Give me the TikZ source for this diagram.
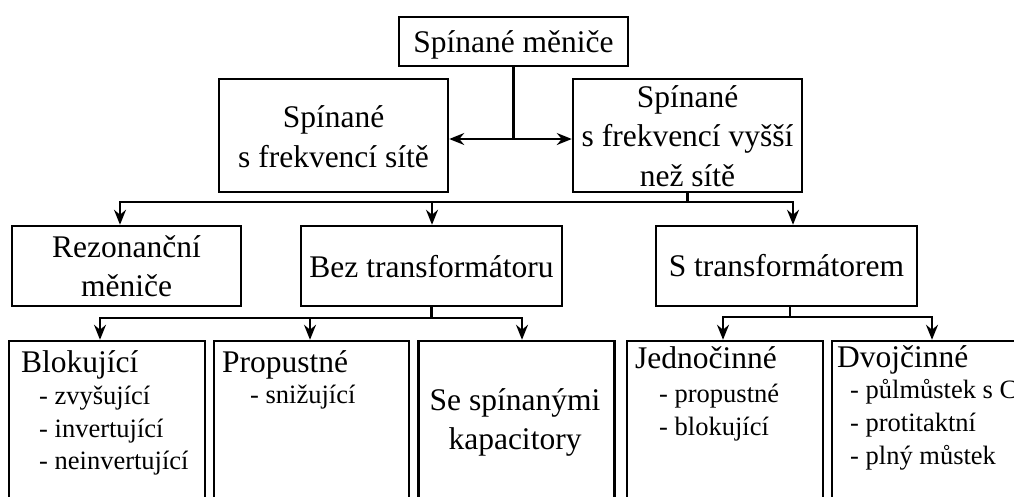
\documentclass[tikz,border=0pt]{standalone}
\usepackage{fontspec}
\setmainfont{Liberation Serif}
\usetikzlibrary{arrows.meta}
\begin{document}
\begin{tikzpicture}[x=1pt,y=-1pt,
  box/.style={draw=black,line width=2.5pt,inner sep=0pt,minimum width=#1},
  box/.default=229pt,
  big/.style={inner sep=0pt,font=\fontsize{31.5}{40}\selectfont},
  small/.style={inner sep=0pt,font=\fontsize{26.5}{33}\selectfont},
  conn/.style={line width=2.2pt},
  arr/.style={conn,-{Stealth[length=15pt,width=12pt,inset=5pt]}}]
\useasboundingbox (0,0) rectangle (1014,496);
\clip (0,0) rectangle (1014,496);
% boxes
\node[box=229pt,minimum height=49pt] (top) at (513.5,41.5) {};
\node[box=229pt,minimum height=113pt] (L2) at (333.5,135.5) {};
\node[box=229pt,minimum height=113pt] (R2) at (687.5,135.5) {};
\node[box=229pt,minimum height=80pt] (rez) at (126.5,266) {};
\node[box=261pt,minimum height=80pt] (bez) at (431.5,266) {};
\node[box=261pt,minimum height=80pt] (str) at (786.5,266) {};
\node[box=196pt,minimum height=200pt] (blok) at (107,441) {};
\node[box=195pt,minimum height=200pt] (prop) at (311.5,441) {};
\node[box=196pt,minimum height=200pt] (sesp) at (516.5,441) {};
\node[box=196pt,minimum height=200pt] (jedn) at (725,441) {};
\node[box=196pt,minimum height=200pt] (dvoj) at (930,441) {};
% texts
\node[big,anchor=base] (t0) at (513.5,52) {Spínané měniče};
\node[big,anchor=base] (t1a) at (333.5,127) {Spínané};
\node[big,anchor=base] (t1b) at (333.5,167) {s frekvencí sítě};
\node[big,anchor=base] (t2a) at (687.5,107) {Spínané};
\node[big,anchor=base] (t2b) at (687.5,146) {s frekvencí vyšší};
\node[big,anchor=base] (t2c) at (687.5,186) {než sítě};
\node[big,anchor=base] (t3a) at (126.5,257) {Rezonanční};
\node[big,anchor=base] (t3b) at (126.5,296) {měniče};
\node[big,anchor=base] (t4) at (431.5,277) {Bez transformátoru};
\node[big,anchor=base] (t5) at (786.5,276) {S transformátorem};
\node[big,anchor=base west] (t6) at (21,372) {Blokující};
\node[small,anchor=base west] (t6a) at (39,404) {- zvyšující};
\node[small,anchor=base west] (t6b) at (39,437) {- invertující};
\node[small,anchor=base west] (t6c) at (39,469) {- neinvertující};
\node[big,anchor=base west] (t7) at (222,372) {Propustné};
\node[small,anchor=base west] (t7a) at (250,403) {- snižující};
\node[big,anchor=base] (t8a) at (515,410) {Se spínanými};
\node[big,anchor=base] (t8b) at (515,449) {kapacitory};
\node[big,anchor=base west] (t9) at (635,368) {Jednočinné};
\node[small,anchor=base west] (t9a) at (659,402) {- propustné};
\node[small,anchor=base west] (t9b) at (659,435) {- blokující};
\node[big,anchor=base west] (t10) at (837,367) {Dvojčinné};
\node[small,anchor=base west] (t10a) at (850,398) {- půlmůstek s C};
\node[small,anchor=base west] (t10b) at (850,431) {- protitaktní};
\node[small,anchor=base west] (t10c) at (850,464) {- plný můstek};
% connectors
\coordinate (j1) at (513.5,139);
\draw[conn] (top.south) -- (j1);
\draw[arr] (j1) -- (j1 -| L2.east);
\draw[arr] (j1) -- (j1 -| R2.west);
\coordinate (b1) at (687.5,202);
\coordinate (b1l) at (120,202);
\coordinate (b1m) at (432,202);
\coordinate (b1r) at (793,202);
\draw[conn] (R2.south) -- (b1);
\draw[arr] (b1) -- (b1l) -- (b1l |- rez.north);
\draw[arr] (b1m) -- (b1m |- bez.north);
\draw[arr] (b1) -- (b1r) -- (b1r |- str.north);
\coordinate (b2) at (431.5,318);
\coordinate (b2l) at (100,318);
\coordinate (b2m) at (310,318);
\coordinate (b2r) at (522,318);
\draw[conn] (bez.south) -- (b2);
\draw[arr] (b2) -- (b2l) -- (b2l |- blok.north);
\draw[arr] (b2m) -- (b2m |- prop.north);
\draw[arr] (b2) -- (b2r) -- (b2r |- sesp.north);
\coordinate (b3) at (790,317);
\coordinate (b3l) at (723,317);
\coordinate (b3r) at (932,317);
\draw[conn] (str.south -| b3) -- (b3);
\draw[arr] (b3) -- (b3l) -- (b3l |- jedn.north);
\draw[arr] (b3) -- (b3r) -- (b3r |- dvoj.north);
\end{tikzpicture}
\end{document}
